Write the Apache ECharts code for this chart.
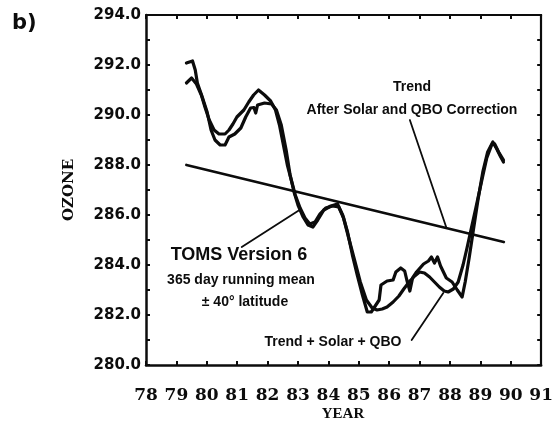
<!DOCTYPE html>
<html>
<head>
<meta charset="utf-8">
<script src="https://cdn.jsdelivr.net/npm/echarts@6/dist/echarts.min.js"></script>
<style>
  html, body { margin: 0; padding: 0; background: #fff; }
  #chart { width: 556px; height: 431px; }
</style>
</head>
<body>
<div id="chart"></div>
<script>
// TOMS Version 6, 365-day running mean, ±40° latitude (Dobson units)
const tomsYears = [79.33, 79.53, 79.62, 79.69, 79.85, 80.01, 80.14, 80.27, 80.44, 80.6, 80.73,
  80.92, 81.12, 81.28, 81.44, 81.55, 81.61, 81.67, 81.9, 82.13, 82.29, 82.45, 82.61, 82.74,
  82.87, 83.0, 83.17, 83.33, 83.49, 83.65, 83.85, 84.08, 84.3, 84.47, 84.63, 84.79, 84.95,
  85.12, 85.28, 85.41, 85.54, 85.67, 85.73, 85.93, 86.13, 86.22, 86.38, 86.51, 86.58, 86.68,
  86.77, 86.9, 87.13, 87.29, 87.39, 87.49, 87.59, 87.69, 87.88, 88.07, 88.24, 88.4, 88.5,
  88.63, 88.76, 88.92, 89.08, 89.24, 89.41, 89.54, 89.67, 89.76];
const tomsValues = [292.08, 292.16, 291.8, 291.28, 290.72, 290.12, 289.4, 289.0, 288.8, 288.8, 289.12,
  289.24, 289.48, 289.92, 290.28, 290.3, 290.08, 290.4, 290.48, 290.44, 290.2, 289.6, 288.6, 287.6,
  286.92, 286.4, 285.92, 285.6, 285.52, 285.8, 286.2, 286.36, 286.44, 286.0, 285.32, 284.4, 283.6,
  282.8, 282.12, 282.12, 282.36, 282.6, 283.2, 283.36, 283.4, 283.72, 283.88, 283.76, 283.4, 282.96,
  283.48, 283.72, 284.04, 284.16, 284.32, 284.08, 284.32, 283.96, 283.48, 283.32, 283.0, 282.72, 283.32,
  284.28, 285.32, 286.6, 287.72, 288.52, 288.92, 288.64, 288.32, 288.12];

// Model: Trend + Solar + QBO
const modelYears = [79.33, 79.5, 79.66, 79.82, 79.95, 80.08, 80.24, 80.4, 80.6, 80.73, 80.86,
  80.99, 81.22, 81.38, 81.54, 81.7, 81.9, 82.1, 82.26, 82.39, 82.52, 82.65, 82.78, 82.91,
  83.07, 83.23, 83.39, 83.56, 83.72, 83.91, 84.14, 84.34, 84.5, 84.66, 84.86, 85.05, 85.25,
  85.44, 85.6, 85.77, 85.93, 86.13, 86.32, 86.48, 86.68, 86.84, 87.0, 87.16, 87.33, 87.49,
  87.65, 87.81, 87.94, 88.11, 88.27, 88.43, 88.56, 88.69, 88.85, 89.05, 89.21, 89.37, 89.47,
  89.6, 89.76];
const modelValues = [291.28, 291.48, 291.24, 290.8, 290.28, 289.8, 289.4, 289.24, 289.24, 289.4, 289.64,
  289.92, 290.2, 290.52, 290.8, 291.0, 290.8, 290.56, 290.2, 289.6, 288.8, 288.0, 287.4, 286.8,
  286.28, 285.88, 285.64, 285.72, 286.04, 286.28, 286.36, 286.32, 285.88, 285.12, 284.2, 283.32, 282.6,
  282.28, 282.2, 282.24, 282.32, 282.52, 282.76, 283.04, 283.36, 283.56, 283.72, 283.68, 283.52, 283.32,
  283.12, 282.96, 282.92, 283.04, 283.32, 284.0, 284.68, 285.4, 286.28, 287.4, 288.28, 288.8, 288.84,
  288.52, 288.2];

// Linear trend after solar and QBO correction
const trendYears = [79.33, 89.77];
const trendValues = [288.0, 284.92];

// Leader lines from the annotations to the curves
const leaderTrend = [[86.68, 289.8], [87.88, 285.5]];
const leaderToms = [[81.15, 284.72], [83.05, 286.2]];
const leaderModel = [[86.74, 281.0], [87.78, 282.88]];

// Axis ranges and labels
const yearMin = 78, yearMax = 91;
const ozoneMin = 280, ozoneMax = 294;
const yearLabels = ['78', '79', '80', '81', '82', '83', '84', '85', '86', '87', '88', '89', '90', '91'];

const pairs = (xs, ys) => xs.map((x, i) => [x, ys[i]]);

const chart = echarts.init(document.getElementById('chart'), null, { renderer: 'canvas' });

const ink = '#0c0c0c';
const sansBold = { fontFamily: 'DejaVu Sans', fontWeight: 'bold', fill: ink };

const lineSeries = (data, width) => ({
  type: 'line',
  data: data,
  showSymbol: false,
  symbol: 'none',
  smooth: false,
  silent: true,
  animation: false,
  lineStyle: { color: ink, width: width, cap: 'round', join: 'round' },
  xAxisIndex: 0,
  yAxisIndex: 0,
  z: 3
});

chart.setOption({
  backgroundColor: '#ffffff',
  animation: false,
  grid: { left: 146, top: 15, width: 400, height: 350, containLabel: false },
  xAxis: [
    {
      type: 'value', position: 'bottom', min: yearMin, max: yearMax, interval: 1,
      axisLine: { show: true, lineStyle: { color: ink, width: 2.5 } },
      axisTick: { show: true, inside: true, length: 4, lineStyle: { color: ink, width: 2 } },
      axisLabel: {
        show: true, margin: 22,
        formatter: v => yearLabels[Math.round(v - yearMin)] || '',
        fontFamily: 'DejaVu Serif', fontWeight: 'bold', fontSize: 17, color: ink
      },
      splitLine: { show: false }
    },
    {
      type: 'value', position: 'top', min: yearMin, max: yearMax, interval: 1,
      axisLine: { show: true, lineStyle: { color: ink, width: 2.2 } },
      axisTick: { show: true, inside: true, length: 4, lineStyle: { color: ink, width: 2 } },
      axisLabel: { show: false },
      splitLine: { show: false }
    }
  ],
  yAxis: [
    {
      type: 'value', position: 'left', min: ozoneMin, max: ozoneMax, interval: 1,
      axisLine: { show: true, lineStyle: { color: ink, width: 2.5 } },
      axisTick: { show: true, inside: true, length: 4, lineStyle: { color: ink, width: 2 } },
      axisLabel: {
        show: true, margin: 5,
        formatter: v => (Math.round(v) % 2 === 0 ? v.toFixed(1) : ''),
        fontFamily: 'DejaVu Sans', fontWeight: 'bold', fontSize: 15, color: ink
      },
      splitLine: { show: false }
    },
    {
      type: 'value', position: 'right', min: ozoneMin, max: ozoneMax, interval: 1,
      axisLine: { show: true, lineStyle: { color: ink, width: 2.2 } },
      axisTick: { show: true, inside: true, length: 4, lineStyle: { color: ink, width: 2 } },
      axisLabel: { show: false },
      splitLine: { show: false }
    }
  ],
  series: [
    lineSeries(pairs(trendYears, trendValues), 2.8),
    lineSeries(pairs(tomsYears, tomsValues), 3.2),
    lineSeries(pairs(modelYears, modelValues), 3.2),
    lineSeries(leaderTrend, 1.8),
    lineSeries(leaderToms, 1.8),
    lineSeries(leaderModel, 1.8)
  ],
  graphic: [
    { type: 'text', x: 12, y: 24, style: Object.assign({ text: 'b)', fontSize: 21, align: 'left', verticalAlign: 'middle' }, sansBold) },
    { type: 'text', x: 69, y: 190, rotation: Math.PI / 2,
      style: { text: 'OZONE', fontFamily: 'DejaVu Serif', fontWeight: 'bold', fontSize: 15, fill: ink, align: 'center', verticalAlign: 'middle' } },
    { type: 'text', x: 343, y: 414,
      style: { text: 'YEAR', fontFamily: 'Liberation Serif', fontWeight: 'bold', fontSize: 15, fill: ink, align: 'center', verticalAlign: 'middle' } },
    { type: 'text', x: 412, y: 87,
      style: { text: 'Trend', fontFamily: 'Liberation Sans', fontWeight: 'bold', fontSize: 14, fill: ink, align: 'center', verticalAlign: 'middle' } },
    { type: 'text', x: 412, y: 110,
      style: { text: 'After Solar and QBO Correction', fontFamily: 'Liberation Sans', fontWeight: 'bold', fontSize: 14, fill: ink, align: 'center', verticalAlign: 'middle' } },
    { type: 'text', x: 239, y: 255,
      style: { text: 'TOMS Version 6', fontFamily: 'Liberation Sans', fontWeight: 'bold', fontSize: 18, fill: ink, align: 'center', verticalAlign: 'middle' } },
    { type: 'text', x: 241, y: 280,
      style: { text: '365 day running mean', fontFamily: 'Liberation Sans', fontWeight: 'bold', fontSize: 14, fill: ink, align: 'center', verticalAlign: 'middle' } },
    { type: 'text', x: 245, y: 302,
      style: { text: '± 40° latitude', fontFamily: 'Liberation Sans', fontWeight: 'bold', fontSize: 14, fill: ink, align: 'center', verticalAlign: 'middle' } },
    { type: 'text', x: 333, y: 342,
      style: { text: 'Trend + Solar + QBO', fontFamily: 'Liberation Sans', fontWeight: 'bold', fontSize: 14, fill: ink, align: 'center', verticalAlign: 'middle' } }
  ]
});
</script>
</body>
</html>
